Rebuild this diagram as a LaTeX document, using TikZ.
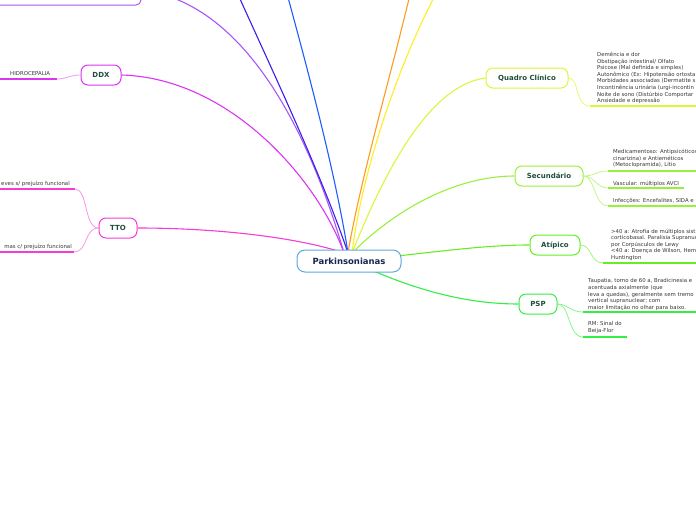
\documentclass[tikz,border=0pt]{standalone}
\usepackage{fontspec}
\setmainfont{DejaVu Sans}
\usetikzlibrary{backgrounds}
\definecolor{mainc}{HTML}{5FA8DC}
\definecolor{maintext}{HTML}{1A2550}
\definecolor{toptext}{HTML}{1E4D3A}
\definecolor{leaftext}{HTML}{383838}
\definecolor{tpc}{HTML}{A855F7}
\definecolor{ddxc}{HTML}{D936F0}
\definecolor{ttoc}{HTML}{F53CD5}
\definecolor{indc}{HTML}{3A1FE8}
\definecolor{bluc}{HTML}{1F5BFF}
\definecolor{orac}{HTML}{FF9A1F}
\definecolor{yelc}{HTML}{FFEE22}
\definecolor{qcc}{HTML}{DDF53A}
\definecolor{secc}{HTML}{99F03C}
\definecolor{atpc}{HTML}{66EE22}
\definecolor{pspc}{HTML}{33EE44}
\begin{document}
\begin{tikzpicture}[x=1pt,y=-1pt,
  topic/.style={draw, rounded corners=7pt, line width=1pt, fill=white,
    minimum height=20pt, inner sep=0pt, text=toptext,
    font=\fontsize{7}{8}\selectfont\bfseries},
  leaf/.style={inner sep=0pt, align=left, text=leaftext,
    font=\fontsize{5.4}{6.6}\selectfont},
  conn/.style={line width=1.1pt},
  lconn/.style={line width=0.8pt},
  uline/.style={line width=2pt}]
\useasboundingbox (0,0) rectangle (696,520);
\clip (0,0) rectangle (696,520);

% main nodes
\node[topic, draw=mainc, minimum width=104pt, minimum height=22pt, rounded corners=8pt,
  text=maintext, font=\fontsize{8.5}{10}\selectfont\bfseries] (P) at (349,261) {Parkinsonianas};
\node[topic, draw=tpc, minimum width=200pt, minimum height=30pt, rounded corners=5pt] (TL) at (41,-10) {};
\node[topic, draw=ddxc, minimum width=40pt] (DDX) at (101,75) {DDX};
\node[topic, draw=ttoc, minimum width=38pt] (TTO) at (118,228) {TTO};
\node[topic, draw=qcc, minimum width=82pt] (QC) at (527,78) {Quadro Clínico};
\node[topic, draw=secc, minimum width=68pt] (SEC) at (549,176) {Secundário};
\node[topic, draw=atpc, minimum width=50pt] (ATP) at (555,245) {Atípico};
\node[topic, draw=pspc, minimum width=38pt] (PSP) at (538,304) {PSP};

% hub and off-page ends
\coordinate (hubL) at (344,253);
\coordinate (hubM) at (348,253);
\coordinate (hubR) at (352,253);
\coordinate (indE) at (236,-10);
\coordinate (bluE) at (286,-10);
\coordinate (oraE) at (411,-10);
\coordinate (yelE) at (438,-10);
\coordinate (atpS) at (380,258);
\coordinate (pspS) at (362,266);

% leaf texts
\node[leaf, anchor=north west] (qcT) at (597,52) {Demência e dor\\Obstipação intestinal/ Olfato\\Psicose (Mal definida e simples)\\Autonômico (Ex: Hipotensão ortosta\\Morbidades associadas (Dermatite s\\Incontinência urinária (urgi-incontin\\Noite de sono (Distúrbio Comportar\\Ansiedade e depressão};
\coordinate (qcU) at (590,106);
\coordinate (qcUe) at (700,106);

\node[leaf, anchor=north west] (s1T) at (613,149) {Medicamentoso: Antipsicóticos\\cinarizina) e Antieméticos\\(Metoclopramida), Lítio};
\coordinate (s1U) at (608,171);
\coordinate (s1Ue) at (700,171);
\node[leaf, anchor=north west] (s2T) at (613,180.5) {Vascular: múltiplos AVCI};
\coordinate (s2U) at (608,188);
\coordinate (s2Ue) at (684,188);
\node[leaf, anchor=north west] (s3T) at (613,198.5) {Infecções: Encefalites, SIDA e};
\coordinate (s3U) at (608,206);
\coordinate (s3Ue) at (700,206);

\node[leaf, anchor=north west] (aT) at (611,228.5) {>40 a: Atrofia de múltiplos sist\\corticobasal. Paralisia Supranuc\\por Corpúsculos de Lewy\\<40 a: Doença de Wilson, Hem\\Huntington};
\coordinate (aU) at (603,263);
\coordinate (aUe) at (700,263);

\node[leaf, anchor=north west] (p1T) at (588,278.5) {Taupatia, torno de 60 a, Bradicinesia e\\acentuada axialmente (que\\leva a quedas), geralmente sem tremo\\vertical supranuclear; com\\maior limitação no olhar para baixo.};
\coordinate (p1U) at (583,312);
\coordinate (p1Ue) at (700,312);
\node[leaf, anchor=north west] (p2T) at (588,321.5) {RM: Sinal do\\Beija-Flor};
\coordinate (p2U) at (583,337);
\coordinate (p2Ue) at (627,337);

\node[leaf, anchor=north east] (t1T) at (70,180.5) {eves s/ prejuízo funcional};
\coordinate (t1U) at (75,189);
\coordinate (t1Ue) at (-5,189);
\node[leaf, anchor=north east] (t2T) at (72,243.5) {mas c/ prejuízo funcional};
\coordinate (t2U) at (74,252);
\coordinate (t2Ue) at (-5,252);

\node[leaf, anchor=north west] (dT) at (10,71.5) {HIDROCEPALIA};
\coordinate (dU) at (57,79);
\coordinate (dUe) at (-5,79);

\begin{scope}[on background layer]
  % main connectors
  \draw[conn, tpc] (TL.east) .. controls (260,5) and (320,170) .. (hubL);
  \draw[conn, ddxc] (DDX.east) .. controls (230,78) and (318,180) .. (hubL);
  \draw[conn, ttoc] (TTO.east) .. controls (220,228) and (300,238) .. (hubL);
  \draw[conn, indc] (indE) .. controls (265,55) and (320,170) .. (hubM);
  \draw[conn, bluc] (bluE) .. controls (305,60) and (335,170) .. (hubM);
  \draw[conn, orac] (oraE) .. controls (395,60) and (360,180) .. (hubM);
  \draw[conn, yelc] (yelE) .. controls (400,60) and (362,170) .. (hubR);
  \draw[conn, qcc] (hubR) .. controls (385,170) and (430,85) .. (QC.west);
  \draw[conn, secc] (hubR) .. controls (400,205) and (460,176) .. (SEC.west);
  \draw[conn, atpc] (atpS) .. controls (450,250) and (490,245) .. (ATP.west);
  \draw[conn, pspc] (pspS) .. controls (420,292) and (470,304) .. (PSP.west);

  % leaf connectors
  \draw[lconn, qcc!70] (QC.east) .. controls (580,78) and (574,106) .. (qcU);
  \draw[lconn, secc!60] (SEC.east) .. controls (595,176) and (596,171) .. (s1U);
  \draw[lconn, secc!60] (SEC.east) .. controls (595,176) and (596,188) .. (s2U);
  \draw[lconn, secc!60] (SEC.east) .. controls (595,176) and (594,206) .. (s3U);
  \draw[lconn, atpc!60] (ATP.east) .. controls (592,245) and (590,263) .. (aU);
  \draw[lconn, pspc!60] (PSP.east) .. controls (568,304) and (570,312) .. (p1U);
  \draw[lconn, pspc!60] (PSP.east) .. controls (570,304) and (568,337) .. (p2U);
  \draw[lconn, ttoc!55] (TTO.west) .. controls (84,228) and (88,189) .. (t1U);
  \draw[lconn, ttoc!55] (TTO.west) .. controls (84,228) and (88,252) .. (t2U);
  \draw[lconn, ddxc!50] (DDX.west) .. controls (70,75) and (66,79) .. (dU);

  % underlines
  \draw[uline, qcc] (qcU) -- (qcUe);
  \draw[uline, secc] (s1U) -- (s1Ue);
  \draw[uline, secc] (s2U) -- (s2Ue);
  \draw[uline, secc] (s3U) -- (s3Ue);
  \draw[uline, atpc] (aU) -- (aUe);
  \draw[uline, pspc] (p1U) -- (p1Ue);
  \draw[uline, pspc] (p2U) -- (p2Ue);
  \draw[uline, ttoc] (t1U) -- (t1Ue);
  \draw[uline, ttoc] (t2U) -- (t2Ue);
  \draw[uline, ddxc] (dU) -- (dUe);
\end{scope}
\end{tikzpicture}
\end{document}
